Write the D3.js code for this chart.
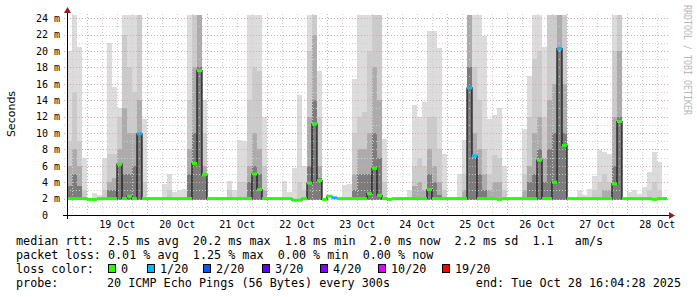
<!DOCTYPE html>
<html>
<head>
<meta charset="utf-8">
<script src="https://cdn.jsdelivr.net/npm/d3@7"></script>
<style>
body { margin: 0; background: #fff; }
svg text { font-family: "DejaVu Sans Mono", monospace; white-space: pre; }
</style>
</head>
<body>
<div id="viz"></div>
<script>
// 10 days of smokeping data, one value per 2 hour bin (120 bins)
var startTime = "2025-10-18T16:04:28Z",
    endTime = "2025-10-28T16:04:28Z",
    binHours = 2;

var medianMs = [
  2.0,2.0,2.0,2.0,1.9,1.9,2.0,2.0,2.0,2.0,
  6.2,2.0,2.3,2.0,9.9,2.0,2.0,2.0,2.0,2.0,
  2.0,2.0,2.0,2.0,2.0,6.3,17.6,4.9,2.0,2.0,
  2.0,2.0,2.0,2.0,2.0,2.0,2.0,5.0,3.1,2.0,
  2.0,2.0,2.0,2.0,2.0,1.8,1.8,2.0,3.9,11.1,
  4.2,1.9,2.3,2.1,2.0,2.0,2.0,2.0,2.0,2.0,
  2.6,5.7,2.4,2.0,1.9,2.0,2.0,2.0,2.0,2.0,
  2.0,2.0,3.1,2.0,2.0,2.0,2.0,2.0,2.0,2.0,
  15.5,7.2,2.0,2.0,2.0,2.0,1.9,2.0,2.0,2.0,
  2.0,2.0,2.0,2.0,6.7,2.0,2.0,4.0,20.3,8.5,
  2.0,2.0,2.0,2.0,2.0,2.0,2.0,2.0,2.0,3.8,
  11.4,2.0,2.0,2.0,2.0,2.0,2.0,1.9,2.0,2.0
];

// lost pings out of 20 per bin
var lossCount = [
  0,0,0,0,0,0,0,0,0,0, 0,0,0,0,1,0,0,0,0,0,
  0,0,0,0,0,0,0,0,0,0, 0,0,0,0,0,0,0,0,0,0,
  0,0,0,0,0,0,0,0,0,0, 0,0,0,1,0,0,0,0,0,0,
  0,0,0,0,0,0,0,0,0,0, 0,0,0,0,0,0,0,0,0,0,
  1,1,0,0,0,0,0,0,0,0, 0,0,0,0,0,0,0,0,1,0,
  0,0,0,0,0,0,0,0,0,0, 0,0,0,0,0,0,0,0,0,0
];

// upper edge of the smoke bands, ms (max ping ... pings closest to median)
var smokeMax = [
  20,24.4,20.5,7,2,2.7,2.5,6.9,21,15.6,
  13,24.4,24.4,24.4,24.4,11.7,2,2,2,3.8,
  5,2.8,3,3.2,24.4,24.4,24.4,14,2,2,
  2,2,4.2,3,9.1,9,24.4,24.4,24.4,12,
  2,2,2,4.2,2.8,5.7,14.6,6,24.4,24.4,
  17.6,2,2,2,2,3.6,3.8,16.6,24.4,24.4,
  24.4,24.4,24.4,9.3,2,2,2,2,3,13.4,
  12,13.8,22.5,22.5,20.4,7.5,2,2,5,9.1,
  24.4,24.4,24.4,21.8,11.7,12.2,13,6,2,2,
  2,10.5,17,24.4,24.4,20.5,24.4,24.4,24.4,24.4,
  2,2,3,2.4,3.2,4.8,7.9,7.7,7.5,24.4,
  24.4,2,2.8,3,2.6,3.4,5.2,7.7,6.5,2
];
var smokeHi = [
  9,15,9,3,2,2,2,3,7.5,7.5,
  12,21.9,18,15,24.4,4,2,2,2,2,
  3,2,2,2,14,24.4,24.4,10,2,2,
  2,2,3,2,4,4,14,18,17.6,6,
  2,2,2,2,2,2,4,3,20,24.4,
  12,2,2,2,2,2,2,10,12,12.6,
  20,24.4,24.4,4,2,2,2,2,2,6,
  7,6,12,12,8,3,2,2,2,5,
  24.4,18,14,8,5,7.3,7,3,2,2,
  2,5,12,19,20,12,24.4,24.4,24.4,24.4,
  2,2,2,2,2,3,4,5,4,20,
  24.4,2,2,2,2,2,3,4,3,2
];
var smokeMid = [
  6,8,6,2,2,2,2,2,4,4.5,
  8,13,10,10,14,2,2,2,2,2,
  2,2,2,2,8,18,24.4,6,2,2,
  2,2,2,2,2,2,6,10,8,3,
  2,2,2,2,2,2,2,2,12,22,
  6,2,2,2,2,2,2,5,8,8,
  10,18,14,2,2,2,2,2,2,3.5,
  4,3,8,6,4,2,2,2,2,3,
  24.4,10,8,5,3,4,4,2,2,2,
  2,3,6,10,12,7,14,16,24.4,16,
  2,2,2,2,2,2,2,3,3,12,
  20,2,2,2,2,2,2,2,2,2
];
var smokeLow = [
  3.5,5,3.5,2,2,2,2,2,3,3,
  6,5,5,6,10,2,2,2,2,2,
  2,2,2,2,5,10,18,5,2,2,
  2,2,2,2,2,2,4,6,5,2,
  2,2,2,2,2,2,2,2,6,14,
  4.5,2,2,2,2,2,2,3,5,5,
  5,10,7,2,2,2,2,2,2,2,
  2,2,5,4,2.5,2,2,2,2,2,
  18,7,5,3,2,2,2,2,2,2,
  2,2,4,5,8,4,8,10,20,10,
  2,2,2,2,2,2,2,2,2,6,
  12,2,2,2,2,2,2,2,2,2
];
var smokeFloor = 1.8;

var yTicks = [0,2,4,6,8,10,12,14,16,18,20,22,24];

var lossLevels = [0,1,2,3,4,10,19];
var lossLabels = ["0","1/20","2/20","3/20","4/20","10/20","19/20"];
var lossColors = ["#26ff00","#00b8ff","#0059ff","#5e00ff","#7e00ff","#dd00ff","#ff0000"];
var legendX = [108,147,203,262,320,378,442];

var rttStats = ["2.5","20.2","1.8","2.0","2.2"];
var lossStats = ["0.01","1.25","0.00","0.00"];
var amPerS = "1.1";

var width = 697, height = 297;
var t0 = new Date(startTime), t1 = new Date(endTime);

var x = d3.scaleUtc().domain([t0, t1]).range([67, 667]);
var y = d3.scaleLinear().domain([0, 24]).range([215, 18.2]);

var bins = medianMs.map(function(m, i) {
  return {
    t: d3.utcHour.offset(t0, i * binHours),
    t2: d3.utcHour.offset(t0, (i + 1) * binHours),
    median: m, loss: lossCount[i],
    levels: [smokeMax[i], smokeHi[i], smokeMid[i], smokeLow[i]]
  };
});

var svg = d3.select('#viz').append('svg')
  .attr('width', width)
  .attr('height', height)
  .style('background', '#fff');

svg.append('clipPath').attr('id', 'plot')
  .append('rect').attr('x', 67).attr('y', 14).attr('width', 601).attr('height', 202);

// smoke
var smokeColors = ['#dcdcdc', '#cbcbcb', '#acacac', '#7c7c7c'];
var smoke = svg.append('g').attr('clip-path', 'url(#plot)');
smokeColors.forEach(function(c, li) {
  smoke.selectAll(null)
    .data(bins.filter(function(d) { return d.levels[li] > 2.05; }))
    .enter().append('rect')
      .attr('x', function(d) { return x(d.t); })
      .attr('width', function(d) { return x(d.t2) - x(d.t); })
      .attr('y', function(d) { return y(d.levels[li]); })
      .attr('height', function(d) { return y(smokeFloor) - y(d.levels[li]); })
      .attr('fill', c)
      .attr('shape-rendering', 'crispEdges');
});

// grid
var grid = svg.append('g').attr('shape-rendering', 'crispEdges');
var minorH = d3.range(1, 25).filter(function(v) { return v % 2; });
var majorH = yTicks.filter(function(v) { return v > 0; });
grid.selectAll('.hmin').data(minorH).enter().append('line')
  .attr('x1', 64).attr('x2', 668)
  .attr('y1', function(d) { return Math.round(y(d)) + 0.5; })
  .attr('y2', function(d) { return Math.round(y(d)) + 0.5; })
  .attr('stroke', '#cfcfcf').attr('stroke-dasharray', '1,2');
var sixHours = d3.utcHour.every(6).range(t0, t1).filter(function(d) { return d.getUTCHours() !== 0; });
grid.selectAll('.vmin').data(sixHours).enter().append('line')
  .attr('x1', function(d) { return Math.round(x(d)) + 0.5; })
  .attr('x2', function(d) { return Math.round(x(d)) + 0.5; })
  .attr('y1', 14).attr('y2', 218)
  .attr('stroke', '#cfcfcf').attr('stroke-dasharray', '1,2');
grid.selectAll('.hmaj').data(majorH).enter().append('line')
  .attr('x1', 64).attr('x2', 668)
  .attr('y1', function(d) { return Math.round(y(d)) + 0.5; })
  .attr('y2', function(d) { return Math.round(y(d)) + 0.5; })
  .attr('stroke', '#e4a4a4').attr('stroke-dasharray', '1,2');
grid.selectAll('.vmaj').data(d3.utcDay.range(t0, t1)).enter().append('line')
  .attr('x1', function(d) { return Math.round(x(d)) + 0.5; })
  .attr('x2', function(d) { return Math.round(x(d)) + 0.5; })
  .attr('y1', 14).attr('y2', 218)
  .attr('stroke', '#e4a4a4').attr('stroke-dasharray', '1,2');

// median line
var pts = bins.map(function(d) { return [x(d.t), y(d.median)]; });
pts.push([x(t1), y(medianMs[medianMs.length - 1])]);
svg.append('path')
  .attr('d', d3.line().curve(d3.curveStepAfter)(pts))
  .attr('fill', 'none').attr('stroke', '#111').attr('stroke-width', 1.2);

function lossColor(n) {
  var idx = 0;
  lossLevels.forEach(function(l, i) { if (n >= l) idx = i; });
  return lossColors[idx];
}
svg.append('g').selectAll('line').data(bins).enter().append('line')
  .attr('x1', function(d) { return x(d.t); })
  .attr('x2', function(d) { return x(d.t2); })
  .attr('y1', function(d) { return y(d.median); })
  .attr('y2', function(d) { return y(d.median); })
  .attr('stroke', function(d) { return lossColor(d.loss); })
  .attr('stroke-width', 3);

// axes
var yAxis = svg.append('g').attr('transform', 'translate(67,0)')
  .call(d3.axisLeft(y).tickValues(yTicks).tickSize(0).tickPadding(7)
    .tickFormat(function(d) { return d === 0 ? '0  ' : d + ' m'; }));
yAxis.select('.domain').remove();
yAxis.selectAll('text').attr('font-size', '10px').attr('fill', '#000')
  .attr('font-family', '"DejaVu Sans Mono", monospace');

var noons = d3.utcDay.range(t0, t1).map(function(d) { return d3.utcHour.offset(d, 12); });
var xAxis = svg.append('g').attr('transform', 'translate(0,215)')
  .call(d3.axisBottom(x).tickValues(noons).tickSize(0).tickPadding(6)
    .tickFormat(d3.utcFormat('%d %b')));
xAxis.select('.domain').remove();
xAxis.selectAll('text').attr('font-size', '10px').attr('fill', '#000')
  .attr('font-family', '"DejaVu Sans Mono", monospace');

svg.append('line').attr('x1', 63).attr('x2', 670).attr('y1', 215.5).attr('y2', 215.5)
  .attr('stroke', '#000');
svg.append('line').attr('x1', 67.5).attr('x2', 67.5).attr('y1', 219).attr('y2', 11)
  .attr('stroke', '#000');
svg.append('path').attr('d', 'M64,13L71,13L67.5,7Z').attr('fill', '#a01818');
svg.append('path').attr('d', 'M669,212L669,219L675,215.5Z').attr('fill', '#a01818');

// titles
svg.append('text').attr('transform', 'translate(15,114) rotate(-90)')
  .attr('text-anchor', 'middle').attr('font-size', '11px')
  .style('font-family', '"DejaVu Sans", sans-serif').text('Seconds');
svg.append('text').attr('transform', 'translate(684,5) rotate(90)')
  .attr('font-size', '10px').attr('fill', '#b8b8b8')
  .attr('textLength', 110).attr('lengthAdjust', 'spacingAndGlyphs')
  .text('RRDTOOL / TOBI OETIKER');

// legend
var fs = '11.75px';
var line1 = 'median rtt:  ' + rttStats[0] + ' ms avg  ' + rttStats[1] + ' ms max  ' +
  rttStats[2] + ' ms min  ' + rttStats[3] + ' ms now  ' + rttStats[4] + ' ms sd  ' + amPerS + '   am/s';
var line2 = 'packet loss: ' + lossStats[0] + ' % avg  ' + lossStats[1] + ' % max  ' +
  lossStats[2] + ' % min  ' + lossStats[3] + ' % now';
svg.append('text').attr('x', 16).attr('y', 245).attr('font-size', fs).attr('xml:space', 'preserve').text(line1);
svg.append('text').attr('x', 16).attr('y', 259).attr('font-size', fs).attr('xml:space', 'preserve').text(line2);
svg.append('text').attr('x', 16).attr('y', 273).attr('font-size', fs).text('loss color:');
var leg = svg.append('g').selectAll('g').data(lossLabels).enter().append('g');
leg.append('rect')
  .attr('x', function(d, i) { return legendX[i] + 0.5; }).attr('y', 264.5)
  .attr('width', 7).attr('height', 8)
  .attr('fill', function(d, i) { return lossColors[i]; })
  .attr('stroke', '#000');
leg.append('text')
  .attr('x', function(d, i) { return legendX[i] + 13; }).attr('y', 273)
  .attr('font-size', fs).text(function(d) { return d; });
svg.append('text').attr('x', 16).attr('y', 287).attr('font-size', fs).text('probe:');
svg.append('text').attr('x', 107).attr('y', 287).attr('font-size', fs)
  .text('20 ICMP Echo Pings (56 Bytes) every 300s');
svg.append('text').attr('x', 681).attr('y', 287).attr('font-size', fs).attr('text-anchor', 'end')
  .text('end: Tue Oct 28 16:04:28 2025');
</script>
</body>
</html>
